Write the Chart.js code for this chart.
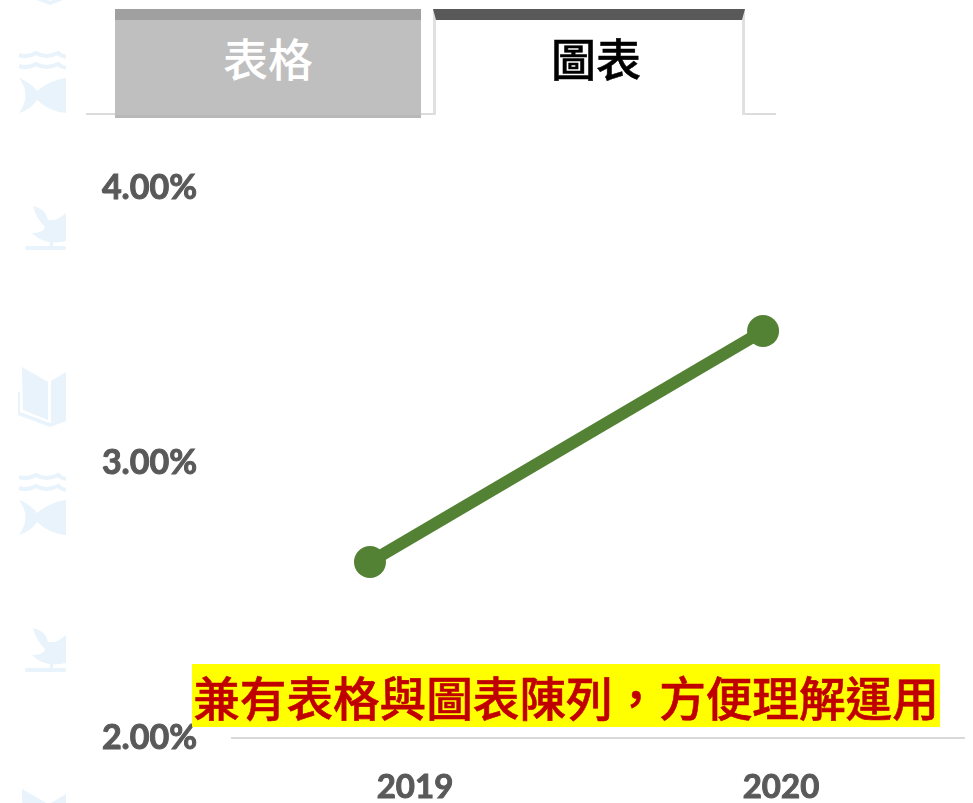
<!DOCTYPE html>
<html lang="zh-Hant">
<head>
<meta charset="utf-8">
<title>圖表</title>
<script src="https://cdn.jsdelivr.net/npm/chart.js@4"></script>
<style>
  html, body { margin:0; padding:0; background:#fff; }
  body { position:relative; width:973px; height:803px; overflow:hidden; font-family:"Noto Sans CJK TC", sans-serif; }
  canvas { position:absolute; left:0; top:0; }
  .wm { position:absolute; left:0; top:0; }
  .tab { position:absolute; top:9px; box-sizing:border-box; text-align:center; font-size:45px; }
  .tab-off { left:115px; width:306px; height:109px; background:#bfbfbf; border-top:11px solid #a0a0a0; border-bottom:3px solid #b8b8b8; color:#fff; font-weight:500; line-height:76px; }
  .tab-on { left:433px; width:312px; height:106px; padding-left:14px; border-top:11px solid #595959; border-left:3px solid #e0e0e0; border-right:3px solid #e0e0e0; color:#000; font-weight:500; -webkit-text-stroke:.5px #000; line-height:76px; }
  .rule { position:absolute; top:113px; height:2px; background:#dcdcdc; }
  .note { position:absolute; left:192px; top:664px; width:748px; height:63px; background:#ff0; color:#c00000; font-size:46.6px; font-weight:500; -webkit-text-stroke:.6px #c00000; line-height:63px; text-align:center; white-space:nowrap; }
</style>
</head>
<body>
<svg class="wm" width="66" height="803" viewBox="0 0 66 803" fill="#e8f3fb">
  <defs>
    <g id="fish">
      <path d="M19 5Q28 8 36 3Q46 9 58 3Q61 6 66 7" fill="none" stroke="#e8f3fb" stroke-width="4"/>
      <path d="M19 16Q28 19 36 14Q46 20 58 14Q61 17 66 18" fill="none" stroke="#e8f3fb" stroke-width="4"/>
      <path d="M19 28Q30 32 37 41Q50 30 66 28V63Q50 62 37 50Q30 60 19 63Q32 45 19 28Z"/>
    </g>
    <g id="bird">
      <path d="M33 0Q45 2 48 14Q56 16 66 7V35Q44 40 32 27Q44 27 45 21Q36 12 33 0Z"/>
      <rect x="50" y="34" width="3" height="8"/>
      <rect x="25" y="40" width="41" height="4" rx="2"/>
    </g>
    <g id="book">
      <path d="M22 0L48 15V53L23 43Z"/>
      <path d="M51 14L66 5V51L51 55Z"/>
      <path d="M18 25H20V45L50 56L66 50V54L50 60L18 48Z"/>
    </g>
  </defs>
  <use href="#book" y="-55"/>
  <use href="#fish" y="50"/>
  <use href="#bird" y="206"/>
  <use href="#book" y="367"/>
  <use href="#fish" y="472"/>
  <use href="#bird" y="628"/>
  <use href="#book" y="789"/>
</svg>

<canvas id="ch-line" width="973" height="803"></canvas>

<div class="rule" style="left:86px;width:29px"></div>
<div class="rule" style="left:421px;width:12px"></div>
<div class="rule" style="left:745px;width:31px"></div>
<div class="tab tab-off">表格</div>
<div class="tab tab-on">圖表</div>
<div class="note">兼有表格與圖表陳列，方便理解運用</div>

<script>
// years shown on the axis, and where each marker really sits along it
const yearTicks = [2019, 2020];
const pointX    = [2018.877, 2019.951];
const pointY    = [2.64, 3.48];
const yTicks    = [2, 3, 4];

const LINE_GREEN = '#548235';
const TICK_GREY = '#595959';
const FONT_FAMILY = 'Lato, "Open Sans", sans-serif';

new Chart(document.getElementById('ch-line').getContext('2d'), {
  type: 'line',
  data: {
    datasets: [{
      data: pointX.map((x, i) => ({ x, y: pointY[i] })),
      borderColor: LINE_GREEN,
      backgroundColor: LINE_GREEN,
      borderWidth: 12,
      pointRadius: 16,
      pointBackgroundColor: LINE_GREEN,
      pointBorderWidth: 0,
      tension: 0,
      clip: false,
    }]
  },
  options: {
    responsive: false,
    animation: false,
    devicePixelRatio: 1,
    layout: { autoPadding:false, padding: { top:188, right:9, left:1, bottom:0 } },
    plugins: { legend:{ display:false }, tooltip:{ enabled:false } },
    scales: {
      x: {
        type: 'linear',
        min: 2018.5,
        max: 2020.5,
        afterBuildTicks: s => { s.ticks = yearTicks.map(v => ({ value:v })); },
        afterFit: s => { s.height = 65; s.paddingLeft = 0; s.paddingRight = 0; },
        grid: { display:false, drawTicks:false },
        border: { color:'#d9d9d9', width:2 },
        ticks: { color:TICK_GREY, textStrokeColor:TICK_GREY, textStrokeWidth:1, font:{ family:FONT_FAMILY, size:33, weight:'bold' }, padding:30, maxRotation:0, autoSkip:false, callback: v => String(v) },
      },
      y: {
        min: 2,
        max: 4,
        afterBuildTicks: s => { s.ticks = yTicks.map(v => ({ value:v })); },
        afterFit: s => { s.width = 231; },
        grid: { display:false, drawTicks:false },
        border: { display:false },
        ticks: { color:TICK_GREY, textStrokeColor:TICK_GREY, textStrokeWidth:1, font:{ family:FONT_FAMILY, size:34, weight:'bold' }, padding:35, callback: v => v.toFixed(2) + '%' },
      }
    }
  }
});
</script>
</body>
</html>
